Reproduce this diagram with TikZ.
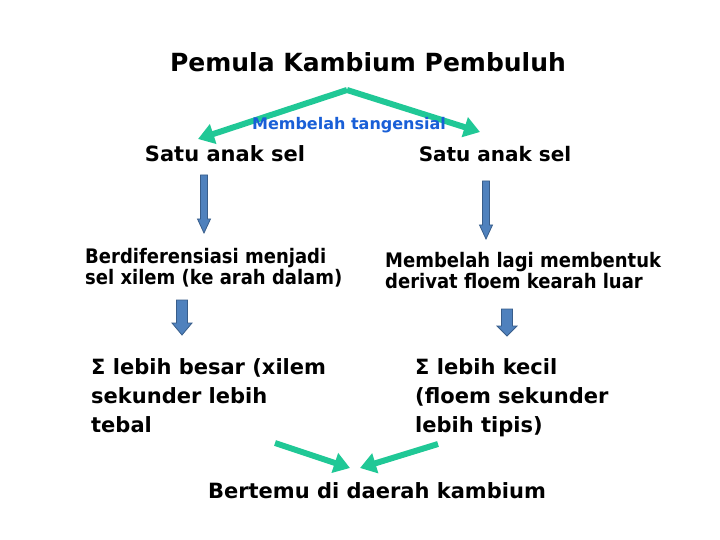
\documentclass[tikz,border=0pt]{standalone}
\usepackage{fontspec}
\setmainfont{DejaVu Sans}
\newfontfamily\condfont{DejaVu Sans Condensed}
\usetikzlibrary{arrows.meta}
\definecolor{tealgreen}{RGB}{32,200,150}
\definecolor{labelblue}{RGB}{25,95,215}
\definecolor{arrowfill}{RGB}{79,129,189}
\definecolor{arrowline}{RGB}{56,93,138}
\tikzset{
	greenarrow/.style={draw=tealgreen, line width=6pt, -{Triangle[length=16pt,width=20pt]}},
	blockarrow/.style={fill=arrowfill, draw=arrowline, line width=0.8pt},
	txt/.style={inner sep=0pt, font=\bfseries\fontsize{21}{29}\selectfont, align=left},
	midtxt/.style={inner sep=0pt, font=\condfont\bfseries\fontsize{20}{21}\selectfont, align=left}
}
% x, top, tip, half shaft, half head, head length
\newcommand{\blkarrow}[6]{\filldraw[blockarrow] (#1-#4,#2) -- (#1+#4,#2) -- (#1+#4,#3-#6) -- (#1+#5,#3-#6) -- (#1,#3) -- (#1-#5,#3-#6) -- (#1-#4,#3-#6) -- cycle;}
\begin{document}
\begin{tikzpicture}[x=1pt,y=-1pt]
	\useasboundingbox[fill=white] (0,0) rectangle (720,540);
	\node (title) at (368,72) [anchor=base, inner sep=0pt, font=\bfseries\fontsize{25}{30}\selectfont] {Pemula Kambium Pembuluh};
	\coordinate (apex) at (347,90);
	\coordinate (tipL) at (198,139);
	\coordinate (tipR) at (480,132);
	\draw[greenarrow] (apex) -- (tipL);
	\draw[greenarrow] (apex) -- (tipR);
	\node (split) at (349,130) [anchor=base, inner sep=0pt, text=labelblue, font=\bfseries\fontsize{16}{19}\selectfont] {Membelah tangensial};
	\node (cellL) at (225,162) [anchor=base, txt, font=\bfseries\fontsize{21}{25}\selectfont] {Satu anak sel};
	\node (cellR) at (495,162) [anchor=base, txt, font=\bfseries\fontsize{20}{25}\selectfont] {Satu anak sel};
	\blkarrow{204}{175}{233}{3.5}{6.5}{14}
	\blkarrow{486}{181}{239}{3.5}{6.5}{14}
	\node (xylem) at (85,248) [anchor=north west, midtxt] {Berdiferensiasi menjadi\\sel xilem (ke arah dalam)};
	\node (phloem) at (385,252) [anchor=north west, midtxt] {Membelah lagi membentuk\\derivat floem kearah luar};
	\blkarrow{182}{300}{335}{5.5}{10}{12}
	\blkarrow{507}{309}{336}{5.5}{10}{10}
	\node (bigL) at (91,358) [txt, anchor=north west] {Σ lebih besar (xilem\\sekunder lebih\\tebal};
	\node (smallR) at (415,358) [txt, anchor=north west] {Σ lebih kecil\\(floem sekunder\\lebih tipis)};
	\coordinate (fromL) at (275,443);
	\coordinate (fromR) at (438,444);
	\coordinate (meetL) at (350,468);
	\coordinate (meetR) at (360,468);
	\draw[greenarrow] (fromL) -- (meetL);
	\draw[greenarrow] (fromR) -- (meetR);
	\node (meet) at (377,498) [anchor=base, inner sep=0pt, font=\bfseries\fontsize{21}{25}\selectfont] {Bertemu di daerah kambium};
\end{tikzpicture}
\end{document}
